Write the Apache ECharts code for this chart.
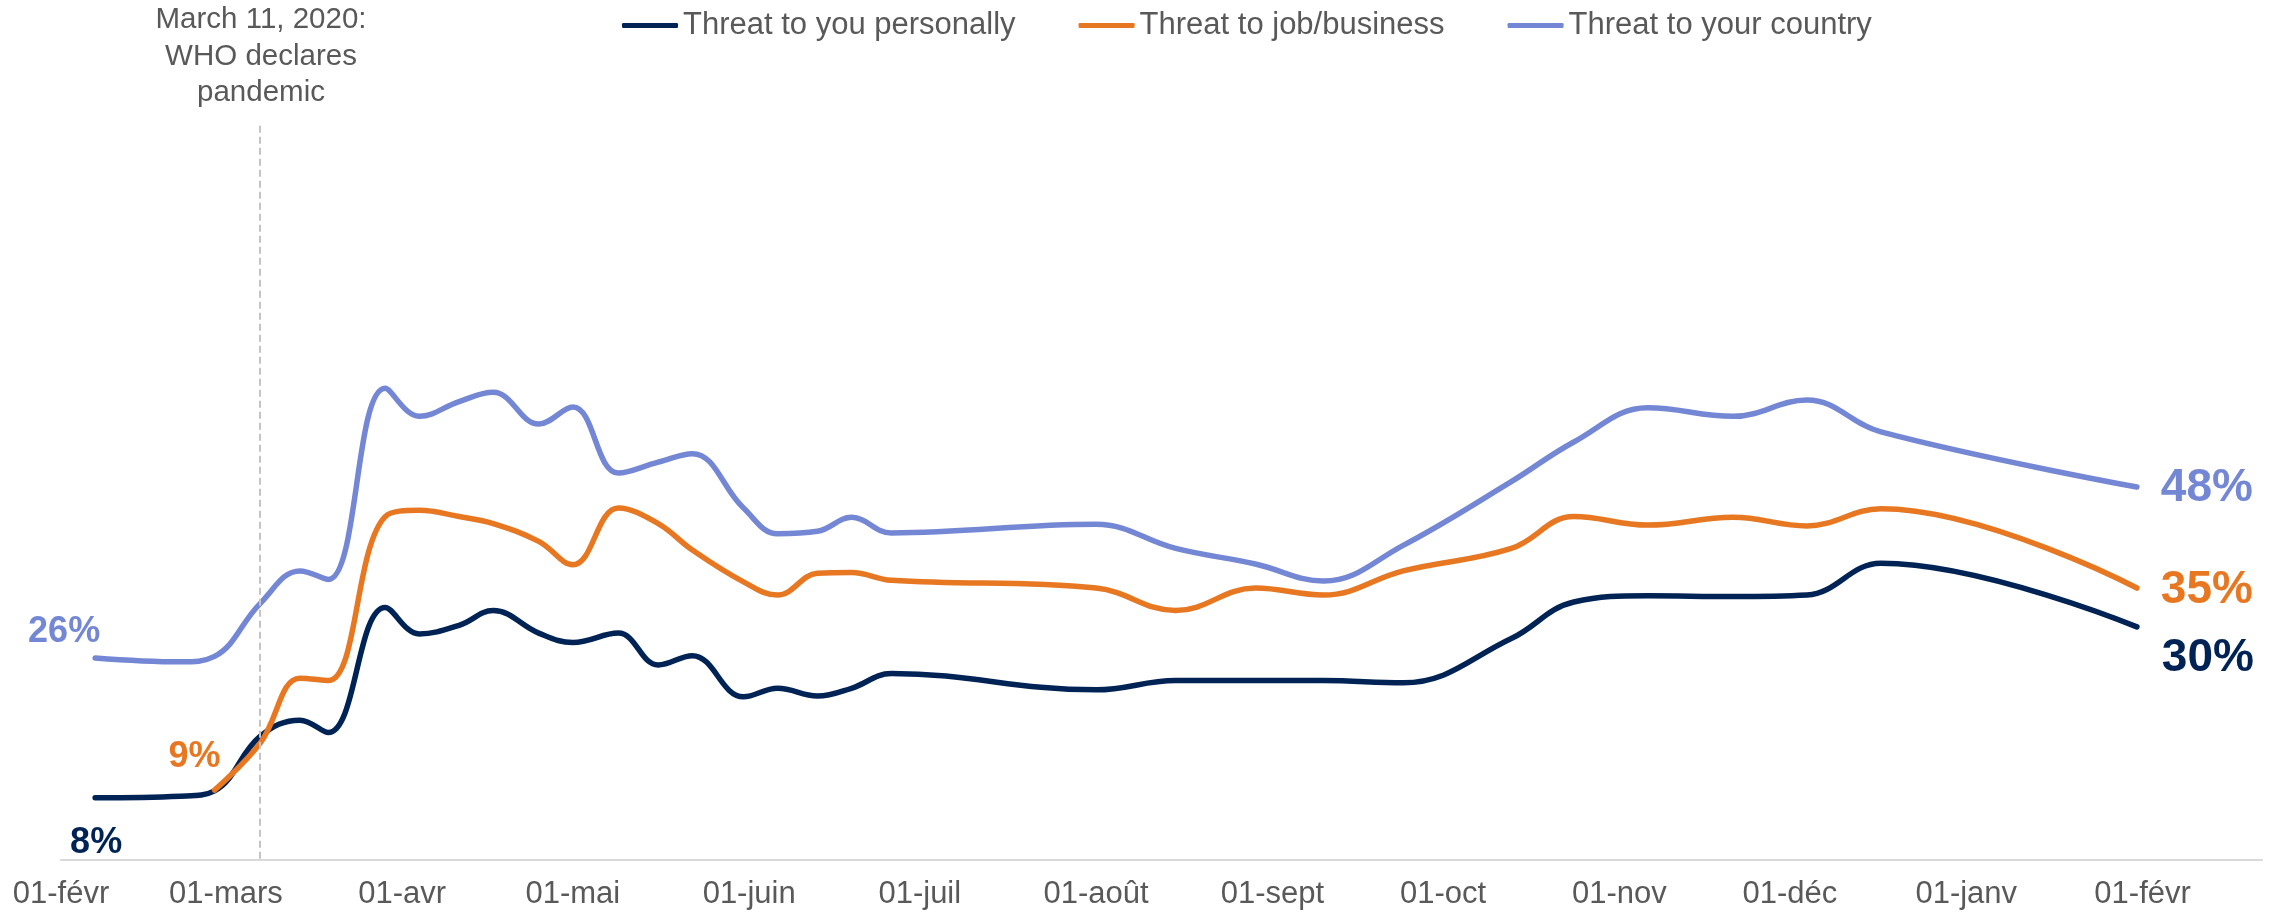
<!DOCTYPE html>
<html>
<head>
<meta charset="utf-8">
<script src="https://cdn.jsdelivr.net/npm/echarts@6/dist/echarts.min.js"></script>
<style>
html,body{margin:0;padding:0;background:#fff;}
#chart{width:2285px;height:917px;}
</style>
</head>
<body>
<div id="chart"></div>
<script>
// ---- data ----
const dates = ['2020-02-07','2020-02-22','2020-02-28','2020-03-07','2020-03-14','2020-03-19','2020-03-29','2020-04-04','2020-04-11','2020-04-17','2020-04-25','2020-05-01','2020-05-09','2020-05-16','2020-05-22','2020-05-31','2020-06-06','2020-06-13','2020-06-19','2020-06-26','2020-08-01','2020-08-15','2020-08-29','2020-09-10','2020-09-24','2020-10-13','2020-10-24','2020-11-06','2020-11-21','2020-12-04','2020-12-17','2021-01-31'];
const personal = [8.0, 8.2, 8.9, 15.9, 18.0, 16.4, 32.5, 29.1, 30.2, 32.1, 29.2, 28.0, 29.2, 25.1, 26.3, 21.0, 22.1, 21.1, 22.1, 24.0, 21.9, 23.1, 23.1, 23.1, 22.8, 28.5, 33.2, 34.0, 33.9, 34.1, 38.2, 30.0];
const job      = [null, null, 9.0, 15.0, 23.4, 23.1, 44.2, 45.0, 44.2, 43.3, 41.0, 38.0, 45.3, 43.3, 39.9, 35.8, 34.1, 36.9, 37.0, 36.0, 35.0, 32.1, 35.0, 34.1, 37.2, 40.1, 44.2, 43.1, 44.1, 43.0, 45.2, 35.0];
const country  = [26.0, 25.5, 26.2, 33.0, 37.2, 36.1, 60.7, 57.1, 59.0, 60.2, 56.1, 58.3, 49.8, 51.2, 52.3, 45.3, 42.0, 42.3, 44.1, 42.1, 43.2, 40.1, 38.1, 35.9, 40.5, 48.7, 53.8, 58.2, 57.1, 59.2, 55.1, 48.0];
const seriesNames = ['Threat to you personally', 'Threat to job/business', 'Threat to your country'];
const tickDates = ['2020-02-01','2020-03-01','2020-04-01','2020-05-01','2020-06-01','2020-07-01','2020-08-01','2020-09-01','2020-10-01','2020-11-01','2020-12-01','2021-01-01','2021-02-01'];
const tickLabels = ['01-févr','01-mars','01-avr','01-mai','01-juin','01-juil','01-août','01-sept','01-oct','01-nov','01-déc','01-janv','01-févr'];
const axisStart = '2020-02-01';
const axisEnd = '2021-02-22';
const annotationDate = '2020-03-07';
const annotationTop = 94.5;
const annotationText = 'March 11, 2020:\nWHO declares\npandemic';

// ---- styles ----
const FONT = '"Liberation Sans", Arial, sans-serif';
const colors = ['#002356', '#E87722', '#7487D5'];
const startOffsets = [[1, 45], [-20, -33], [-31, -26]];
const endOffsets = [[71, 31], [70, 2], [70, 1]];

// days since axis start (UTC, no DST drift)
function dayOf(s) {
  const p = s.split('-').map(Number);
  const a = axisStart.split('-').map(Number);
  return Math.round((Date.UTC(p[0], p[1] - 1, p[2]) - Date.UTC(a[0], a[1] - 1, a[2])) / 86400000);
}
const tickDays = tickDates.map(dayOf);

const valueSets = [personal, job, country];
const series = valueSets.map(function (vals, k) {
  const data = dates.map(function (d, i) { return [dayOf(d), vals[i]]; });
  let i0 = 0; while (vals[i0] == null) i0++;
  const i1 = vals.length - 1;
  const mk = function (i, off, size) {
    return {
      coord: [dayOf(dates[i]), vals[i]], value: vals[i],
      label: { offset: off, fontSize: size }
    };
  };
  const s = {
    name: seriesNames[k], type: 'line', data: data, smooth: 0.4,
    showSymbol: false, symbol: 'none', connectNulls: false,
    lineStyle: { width: 5.5, color: colors[k], cap: 'round', join: 'round' },
    itemStyle: { color: colors[k] },
    emphasis: { disabled: true },
    markPoint: {
      silent: true, symbol: 'circle', symbolSize: 1,
      itemStyle: { color: 'rgba(0,0,0,0)' },
      label: {
        show: true, position: 'inside', color: colors[k], fontWeight: 'bold',
        fontFamily: FONT, textBorderWidth: 0,
        formatter: function (p) { return Math.round(p.value) + '%'; }
      },
      data: [mk(i0, startOffsets[k], 36), mk(i1, endOffsets[k], 46)]
    }
  };
  if (k === 0) {
    s.markLine = {
      silent: true, symbol: 'none', animation: false,
      label: { show: false },
      lineStyle: { type: [7, 4], color: '#c4c4c4', width: 2 },
      data: [[{ coord: [dayOf(annotationDate), annotationTop] }, { coord: [dayOf(annotationDate), 0] }]]
    };
  }
  return s;
});

const chart = echarts.init(document.getElementById('chart'), null, { renderer: 'canvas' });
chart.setOption({
  animation: false,
  backgroundColor: '#ffffff',
  color: colors,
  textStyle: { fontFamily: FONT },
  grid: { left: 61, right: 23, top: 83, bottom: 57, containLabel: false, outerBoundsMode: 'none' },
  legend: {
    left: 617, top: 5, itemWidth: 56, itemHeight: 5, itemGap: 63,
    icon: 'roundRect',
    textStyle: { fontSize: 31, color: '#595959', fontFamily: FONT },
    data: seriesNames, selectedMode: false
  },
  xAxis: {
    type: 'value', min: 0, max: dayOf(axisEnd),
    axisLine: { show: true, onZero: false, lineStyle: { color: '#d9d9d9', width: 2 } },
    axisTick: { show: false },
    splitLine: { show: false },
    axisLabel: {
      customValues: tickDays, hideOverlap: false,
      fontSize: 31, color: '#595959', fontFamily: FONT, margin: 19,
      formatter: function (v) { const i = tickDays.indexOf(Math.round(v)); return i >= 0 ? tickLabels[i] : ''; }
    }
  },
  yAxis: { type: 'value', min: 0, max: 100, show: false },
  graphic: [{
    type: 'text', silent: true,
    style: {
      x: 261, y: 2, text: annotationText, align: 'center', verticalAlign: 'top',
      fontSize: 29.5, lineHeight: 36.5, fontFamily: FONT, fill: '#595959'
    }
  }],
  series: series
});
</script>
</body>
</html>
